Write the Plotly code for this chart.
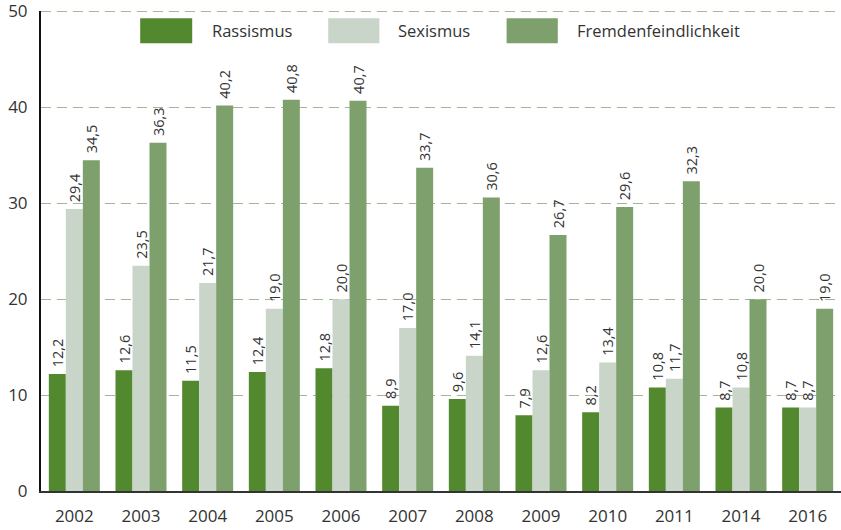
import plotly.graph_objects as go

years = ["2002", "2003", "2004", "2005", "2006", "2007", "2008", "2009", "2010", "2011", "2014", "2016"]
rassismus = [12.2, 12.6, 11.5, 12.4, 12.8, 8.9, 9.6, 7.9, 8.2, 10.8, 8.7, 8.7]
sexismus = [29.4, 23.5, 21.7, 19.0, 20.0, 17.0, 14.1, 12.6, 13.4, 11.7, 10.8, 8.7]
fremden = [34.5, 36.3, 40.2, 40.8, 40.7, 33.7, 30.6, 26.7, 29.6, 32.3, 20.0, 19.0]
series_names = ["Rassismus", "Sexismus", "Fremdenfeindlichkeit"]
colors = ["#52882E", "#C9D5C9", "#7EA06C"]
y_ticks = [0, 10, 20, 30, 40, 50]

FONT = "Open Sans"
GRID = "#A3B594"
fig = go.Figure()
for name, vals, col in zip(series_names, [rassismus, sexismus, fremden], colors):
    fig.add_trace(go.Bar(
        x=years, y=vals, name=name, marker=dict(color=col, line=dict(width=0)),
        text=["\u00a0" + f"{v:.1f}".replace(".", ",") for v in vals],
        textposition="outside", textangle=-90, constraintext="none",
        textfont=dict(family=FONT, size=14.5, color="#333333"),
        cliponaxis=False, showlegend=False,
    ))

# top gridline (plotly clips gridlines at the very edge)
fig.add_shape(type="line", xref="paper", yref="y", x0=0, x1=1, y0=y_ticks[-1], y1=y_ticks[-1],
              line=dict(color=GRID, width=1, dash="10px,6px"), layer="below")

# custom legend (large swatches)
leg_x = [(0.124, 0.189, 0.211), (0.359, 0.423, 0.444), (0.582, 0.646, 0.668)]
for (x0, x1, xt), name, col in zip(leg_x, series_names, colors):
    fig.add_shape(type="rect", xref="paper", yref="paper", x0=x0, x1=x1, y0=0.933, y1=0.985,
                  fillcolor=col, line=dict(width=0), layer="above")
    fig.add_annotation(xref="paper", yref="paper", x=xt, y=0.959, text=name, showarrow=False,
                       xanchor="left", yanchor="middle",
                       font=dict(family=FONT, size=16.5, color="#333333"))

fig.update_layout(
    width=841, height=530,
    margin=dict(l=41, r=0, t=11, b=39),
    barmode="group", bargap=0.235, bargroupgap=0,
    plot_bgcolor="white", paper_bgcolor="white",
    font=dict(family=FONT, color="#333333"),
)
fig.update_xaxes(showline=True, linecolor="#333333", linewidth=2, ticks="",
                 tickfont=dict(size=17, color="#333333"), ticklabelstandoff=9)
fig.update_yaxes(range=[0, 50.05], tickvals=y_ticks, showline=True, linecolor="#111111", linewidth=2,
                 showgrid=True, gridcolor=GRID, griddash="10px,6px", gridwidth=1,
                 zeroline=False, ticks="", ticklabelstandoff=8, ticklabeloverflow="allow",
                 tickfont=dict(size=17, color="#333333"))

fig.write_html("out.html", config={"displayModeBar": False},
               post_script="document.body.style.margin='0';document.body.style.overflow='hidden';")
